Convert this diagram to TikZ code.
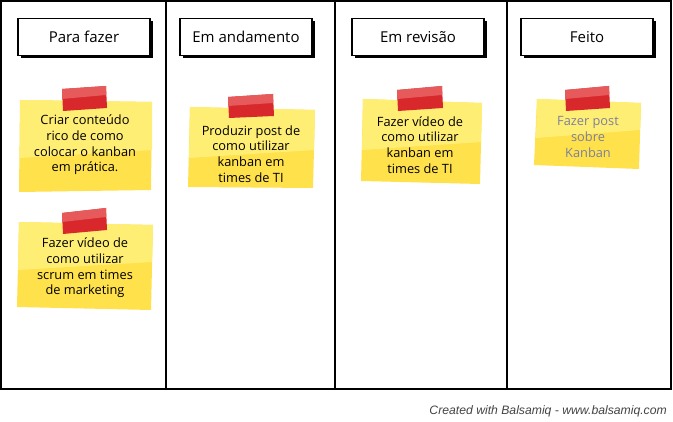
\documentclass[tikz,border=0pt]{standalone}
\usepackage{fontspec}
\setmainfont{Open Sans}
\newfontfamily\footfont{Liberation Sans}
\usetikzlibrary{shadows}
\definecolor{noteA}{HTML}{FFE14C}
\definecolor{noteB}{HTML}{FFEE74}
\definecolor{tapeA}{HTML}{D8282C}
\definecolor{tapeB}{HTML}{E65A5C}
\definecolor{doneText}{HTML}{7C809C}
\definecolor{footgray}{HTML}{444444}
\tikzset{
  header/.style={draw=black, line width=1.3pt, fill=white, minimum width=132pt, minimum height=37pt,
    inner sep=0pt, font=\fontsize{15}{17}\selectfont,
    drop shadow={shadow xshift=2.5pt, shadow yshift=-2.5pt, fill=black, opacity=1}},
  notetext/.style={align=center, inner sep=0pt, font=\fontsize{12.8}{15.7}\selectfont},
  framestyle/.style={line width=1.6pt, black},
  colline/.style={line width=1.4pt, black},
}
\begin{document}
\begin{tikzpicture}[x=1pt,y=-1pt]
\useasboundingbox (0,0) rectangle (673,422);
\fill[white] (0,0) rectangle (673,422);
% frame
\draw[framestyle] (1,1) rectangle (671,389);
\draw[colline] (166,1) -- (166,389);
\draw[colline] (335,1) -- (335,389);
\draw[colline] (507,1) -- (507,389);
% headers
\node[header] (h1) at (84,37) {Para fazer};
\node[header] (h2) at (246,37) {Em andamento};
\node[header] (h3) at (418,37) {Em revisão};
\node[header] (h4) at (587,37) {Feito};
% note 1
\fill[noteA] (20,100) -- (152,102) -- (151,190) -- (19,192) -- cycle;
\fill[noteB] (20,100) -- (152,102) -- (152,150) -- (20,158) -- cycle;
\fill[tapeA] (62,89) -- (106,86) -- (107,108) -- (63,111) -- cycle;
\fill[tapeB] (62,89) -- (106,86) -- (106,95) -- (62,99) -- cycle;
\node[notetext] (n1) at (85,145) {Criar conteúdo\\rico de como\\colocar o kanban\\em prática.};
% note 2
\fill[noteA] (19,222) -- (153,225) -- (151,310) -- (17,307) -- cycle;
\fill[noteB] (19,222) -- (153,225) -- (152,262) -- (18,270) -- cycle;
\fill[tapeA] (62,213) -- (106,208) -- (107,230) -- (63,234) -- cycle;
\fill[tapeB] (62,213) -- (106,208) -- (106,217) -- (62,222) -- cycle;
\node[notetext] (n2) at (85,268) {Fazer vídeo de\\como utilizar\\scrum em times\\de marketing};
% note col2
\fill[noteA] (190,107) -- (315,110) -- (313,188) -- (188,187) -- cycle;
\fill[noteB] (190,107) -- (315,110) -- (314,150) -- (189,158) -- cycle;
\fill[tapeA] (228,97) -- (273,94) -- (274,116) -- (229,118) -- cycle;
\fill[tapeB] (228,97) -- (273,94) -- (273,103) -- (228,106) -- cycle;
\node[notetext] (n3) at (251,154) {Produzir post de\\como utilizar\\kanban em\\times de TI};
% note col3
\fill[noteA] (363,99) -- (482,103) -- (480,184) -- (361,181) -- cycle;
\fill[noteB] (363,99) -- (482,103) -- (481,142) -- (362,150) -- cycle;
\fill[tapeA] (397,90) -- (442,86) -- (443,108) -- (398,111) -- cycle;
\fill[tapeB] (397,90) -- (442,86) -- (442,95) -- (397,99) -- cycle;
\node[notetext] (n4) at (420,145) {Fazer vídeo de\\como utilizar\\kanban em\\times de TI};
% note col4
\fill[noteA] (537,99) -- (641,103) -- (639,169) -- (534,165) -- cycle;
\fill[noteB] (537,99) -- (641,103) -- (640,130) -- (536,138) -- cycle;
\fill[tapeA] (565,90) -- (609,86) -- (610,108) -- (566,111) -- cycle;
\fill[tapeB] (565,90) -- (609,86) -- (609,95) -- (565,99) -- cycle;
\node[notetext, text=doneText] (n5) at (588,137) {Fazer post\\sobre\\Kanban};
% footer
\node[anchor=east, inner sep=0pt, text=footgray, font=\footfont\itshape\fontsize{12.2}{14}\selectfont] (foot) at (667,411) {Created with Balsamiq - www.balsamiq.com};
\end{tikzpicture}
\end{document}
